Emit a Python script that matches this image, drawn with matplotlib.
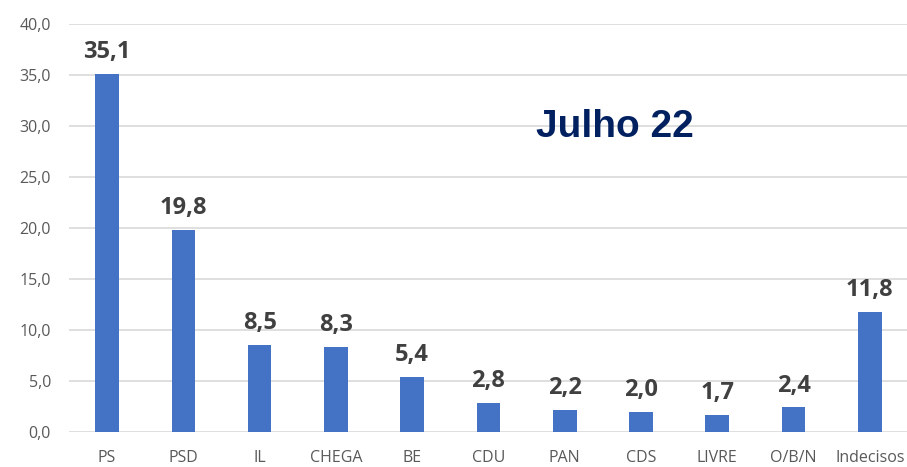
import numpy as np
import matplotlib.pyplot as plt

parties = ['PS', 'PSD', 'IL', 'CHEGA', 'BE', 'CDU', 'PAN', 'CDS', 'LIVRE', 'O/B/N', 'Indecisos']
values = [35.1, 19.8, 8.5, 8.3, 5.4, 2.8, 2.2, 2.0, 1.7, 2.4, 11.8]
yticks = [0, 5, 10, 15, 20, 25, 30, 35, 40]

fig = plt.figure(figsize=(9.07, 4.67), dpi=100)
ax = fig.add_axes([0.076, 0.075, 0.925, 0.8736])

x = np.arange(len(parties))
ax.bar(x, values, width=0.31, color='#4472C4', zorder=2)

for xi, v in zip(x, values):
    ax.annotate(f'{v:.1f}'.replace('.', ','), (xi, v), xytext=(0, 11.5),
                textcoords='offset points', ha='center', va='baseline',
                fontsize=17, fontweight='bold', color='#404040', family='Open Sans')

ax.set_ylim(0, 40)
ax.set_xlim(-0.5, len(parties) - 0.5)
ax.set_yticks(yticks)
ax.set_yticklabels([f'{t:.1f}'.replace('.', ',') for t in yticks])
ax.set_xticks(x)
ax.set_xticklabels(parties)
ax.tick_params(length=0, labelsize=11.5, labelcolor='#595959')
ax.tick_params(axis='y', pad=13)
ax.tick_params(axis='x', pad=13)
for lab in ax.get_xticklabels() + ax.get_yticklabels():
    lab.set_family('Open Sans')

ax.grid(axis='y', color='#D9D9D9', lw=1.2, zorder=0)
for s in ax.spines.values():
    s.set_visible(False)

ax.text(0.651, 0.748, 'Julho 22', transform=ax.transAxes, ha='center', va='center',
        fontsize=28, fontweight='bold', color='#002060', family='Liberation Sans')

fig.savefig('out.png', dpi=100)
